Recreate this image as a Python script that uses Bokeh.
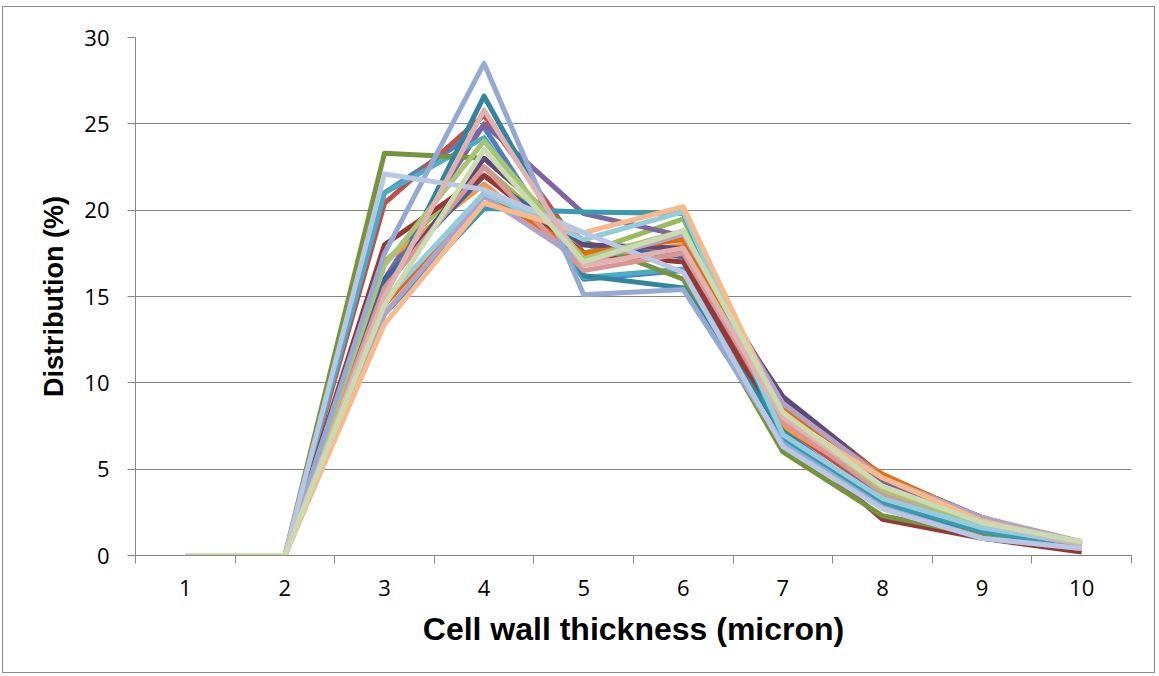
from bokeh.plotting import figure
from bokeh.models import FixedTicker, Range1d
from bokeh.embed import file_html
from bokeh.resources import INLINE

categories = [1, 2, 3, 4, 5, 6, 7, 8, 9, 10]

s01 = [0, 0, 21.0, 24.8, 16.0, 16.5, 7.0, 3.0, 1.3, 0.5]
s02 = [0, 0, 20.4, 25.5, 17.5, 17.5, 7.5, 3.5, 1.6, 0.4]
s03 = [0, 0, 17.0, 22.5, 17.5, 19.5, 8.0, 3.8, 1.8, 0.8]
s04 = [0, 0, 16.0, 25.0, 19.8, 18.5, 9.0, 4.3, 2.0, 0.7]
s05 = [0, 0, 21.0, 24.2, 16.1, 16.6, 7.0, 3.2, 1.5, 0.6]
s06 = [0, 0, 17.0, 21.5, 17.0, 18.0, 7.5, 4.0, 1.8, 0.7]
s07 = [0, 0, 16.0, 22.0, 18.0, 17.3, 8.0, 3.5, 1.5, 0.5]
s08 = [0, 0, 18.0, 22.0, 17.5, 17.0, 7.0, 2.1, 1.0, 0.2]
s09 = [0, 0, 23.3, 23.0, 18.2, 16.0, 6.0, 2.3, 1.2, 0.7]
s10 = [0, 0, 15.5, 23.0, 18.0, 17.8, 9.2, 4.6, 2.2, 0.6]
s11 = [0, 0, 15.0, 26.6, 16.2, 15.5, 7.2, 3.0, 1.4, 0.5]
s12 = [0, 0, 14.5, 21.0, 17.5, 18.3, 8.5, 4.7, 2.1, 0.6]
s13 = [0, 0, 14.0, 20.1, 19.9, 19.8, 6.8, 3.1, 1.4, 0.5]
s14 = [0, 0, 15.5, 22.5, 16.5, 17.5, 7.8, 3.6, 1.7, 0.6]
s15 = [0, 0, 16.8, 24.0, 17.2, 18.8, 8.2, 3.8, 1.8, 0.8]
s16 = [0, 0, 14.0, 20.8, 17.0, 18.6, 8.8, 4.5, 2.2, 0.8]
s17 = [0, 0, 14.8, 21.0, 18.3, 19.9, 7.0, 3.3, 1.6, 0.7]
s18 = [0, 0, 13.4, 20.4, 18.7, 20.2, 8.0, 4.5, 2.0, 0.7]
s19 = [0, 0, 17.5, 28.5, 15.1, 15.4, 6.5, 2.8, 1.0, 0.4]
s20 = [0, 0, 22.1, 21.2, 18.7, 16.4, 6.3, 2.7, 1.0, 0.4]
s21 = [0, 0, 15.0, 25.8, 16.8, 17.8, 8.0, 4.0, 1.9, 0.7]
s22 = [0, 0, 14.5, 23.5, 17.0, 18.8, 8.3, 4.0, 1.9, 0.8]

series = [s01, s02, s03, s04, s05, s06, s07, s08, s09, s10, s11,
          s12, s13, s14, s15, s16, s17, s18, s19, s20, s21, s22]
colors = ["#4F81BD", "#C0504D", "#9BBB59", "#8064A2", "#4BACC6", "#F79646",
          "#3B64A0", "#953735", "#77933C", "#5F497A", "#31859C", "#E46C0A",
          "#3A9AB0", "#D99694", "#A9C574", "#B3A2C7", "#93CDDD", "#FAB98A",
          "#95AAD2", "#B9C7E4", "#E0B2B1", "#CADBB0"]

y_ticks = [0, 5, 10, 15, 20, 25, 30]
x_bounds = [0.5 + i for i in range(11)]

p = figure(frame_width=996, frame_height=518,
           min_border_left=132, min_border_right=23,
           min_border_top=30, min_border_bottom=117,
           x_range=Range1d(0.5, 10.5), y_range=Range1d(0, 30),
           output_backend="svg", toolbar_location=None)
p.styles = {"border": "1px solid #8c8c8c", "margin-left": "2px", "margin-top": "6px"}
p.outline_line_color = None
p.background_fill_color = "white"
p.border_fill_color = "white"

for ys, c in zip(series, colors):
    p.line(categories, ys, line_color=c, line_width=5, line_join="round")

grid_color = "#868686"
p.xgrid.visible = False
p.ygrid.ticker = FixedTicker(ticks=y_ticks)
p.ygrid.grid_line_color = grid_color
p.ygrid.grid_line_width = 1
p.ygrid.level = "underlay"

p.yaxis.ticker = FixedTicker(ticks=y_ticks)
p.xaxis.ticker = FixedTicker(ticks=categories, minor_ticks=x_bounds)
for ax in (p.xaxis[0], p.yaxis[0]):
    ax.axis_line_color = grid_color
    ax.major_tick_line_color = grid_color
    ax.minor_tick_line_color = grid_color
    ax.major_label_text_font = "Open Sans"
    ax.major_label_text_font_size = "22px"
    ax.major_label_text_color = "black"
    ax.axis_label_text_font = "Liberation Sans"
    ax.axis_label_text_font_style = "bold"
    ax.axis_label_text_color = "black"

p.yaxis.major_tick_out = 8
p.yaxis.major_tick_in = 0
p.yaxis.minor_tick_out = 0
p.yaxis.minor_tick_in = 0
p.yaxis.major_label_standoff = 18
p.yaxis.axis_label = "Distribution (%)"
p.yaxis.axis_label_text_font_size = "27px"
p.yaxis.axis_label_standoff = 12

p.xaxis.major_tick_out = 0
p.xaxis.major_tick_in = 0
p.xaxis.minor_tick_out = 8
p.xaxis.minor_tick_in = 0
p.xaxis.major_label_standoff = 16
p.xaxis.axis_label = "Cell wall thickness (micron)"
p.xaxis.axis_label_text_font_size = "32px"
p.xaxis.axis_label_standoff = 12

open("out.html", "w").write(file_html(p, INLINE))
